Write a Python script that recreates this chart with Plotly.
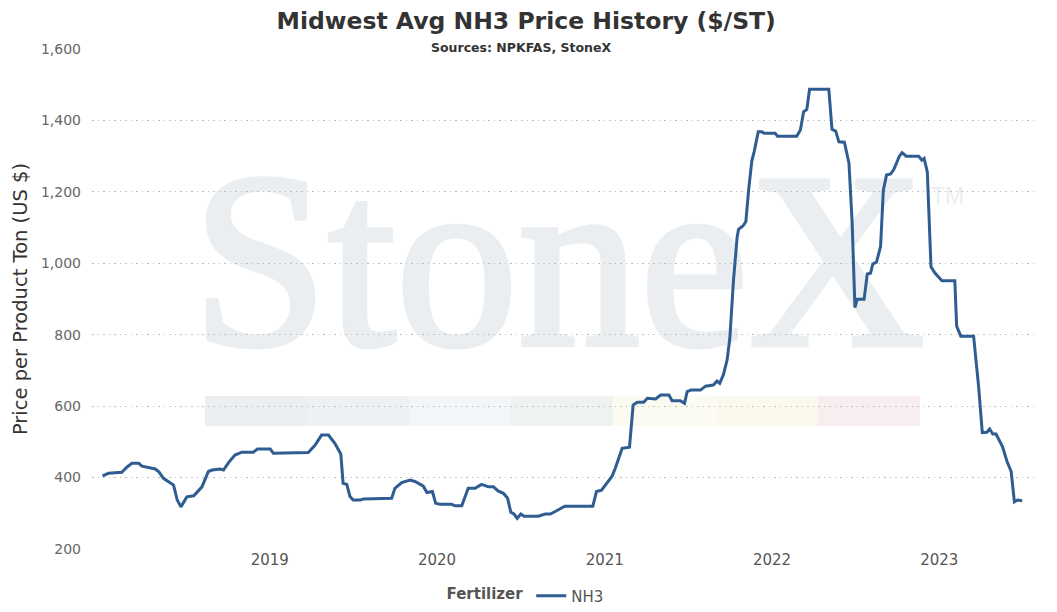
import base64
import plotly.graph_objects as go

# weekly-ish Midwest NH3 retail price, $/short ton
dates = [
    '2018-01-01', '2018-01-14', '2018-02-12', '2018-02-23', '2018-03-06', '2018-03-21',
    '2018-03-28', '2018-04-12', '2018-04-26', '2018-05-04', '2018-05-14', '2018-06-05',
    '2018-06-13', '2018-06-21', '2018-07-04', '2018-07-19', '2018-08-06', '2018-08-20',
    '2018-08-28', '2018-09-15', '2018-09-22', '2018-10-03', '2018-10-17', '2018-11-01',
    '2018-11-26', '2018-12-05', '2019-01-02', '2019-01-09', '2019-02-21', '2019-03-26',
    '2019-04-10', '2019-04-24', '2019-05-09', '2019-05-23', '2019-06-05', '2019-06-10',
    '2019-06-18', '2019-06-25', '2019-07-02', '2019-07-17', '2019-07-24', '2019-09-24',
    '2019-10-01', '2019-10-16', '2019-11-03', '2019-11-14', '2019-12-02', '2019-12-10',
    '2019-12-22', '2019-12-29', '2020-01-08', '2020-02-02', '2020-02-09', '2020-02-24',
    '2020-03-09', '2020-03-24', '2020-04-07', '2020-04-22', '2020-05-03', '2020-05-14',
    '2020-05-25', '2020-06-03', '2020-06-10', '2020-06-17', '2020-06-24', '2020-07-02',
    '2020-07-09', '2020-08-09', '2020-08-24', '2020-09-04', '2020-09-15', '2020-09-25',
    '2020-10-06', '2020-12-06', '2020-12-14', '2020-12-25', '2021-01-06', '2021-01-17',
    '2021-01-24', '2021-02-08', '2021-02-24', '2021-03-04', '2021-03-13', '2021-03-27',
    '2021-04-04', '2021-04-22', '2021-05-03', '2021-05-21', '2021-05-28', '2021-06-15',
    '2021-06-24', '2021-06-30', '2021-07-08', '2021-07-29', '2021-08-09', '2021-08-26',
    '2021-09-03', '2021-09-09', '2021-09-17', '2021-09-25', '2021-10-01', '2021-10-09',
    '2021-10-17', '2021-10-20', '2021-10-30', '2021-11-05', '2021-11-11', '2021-11-18',
    '2021-11-23', '2021-12-02', '2021-12-10', '2021-12-15', '2022-01-08', '2022-01-13',
    '2022-02-24', '2022-03-04', '2022-03-11', '2022-03-18', '2022-03-24', '2022-05-05',
    '2022-05-12', '2022-05-20', '2022-05-27', '2022-06-08', '2022-06-18', '2022-06-25',
    '2022-07-01', '2022-07-06', '2022-07-21', '2022-07-28', '2022-08-04', '2022-08-09',
    '2022-08-17', '2022-08-26', '2022-09-01', '2022-09-08', '2022-09-17', '2022-09-24',
    '2022-10-06', '2022-10-12', '2022-10-21', '2022-11-17', '2022-11-24', '2022-11-29',
    '2022-12-06', '2022-12-14', '2022-12-23', '2023-01-07', '2023-02-04', '2023-02-08',
    '2023-02-17', '2023-03-17', '2023-03-28', '2023-04-05', '2023-04-15', '2023-04-21',
    '2023-04-28', '2023-05-05', '2023-05-19', '2023-05-29', '2023-06-07', '2023-06-14',
    '2023-06-21', '2023-07-01',
]
nh3 = [
    405, 412, 415, 429, 440, 440,
    432, 428, 424, 416, 398, 379,
    337, 318, 346, 349, 374, 417,
    421, 424, 421, 442, 463, 471,
    471, 480, 480, 468, 468, 470,
    491, 519, 519, 496, 466, 384,
    381, 347, 337, 337, 340, 342,
    370, 386, 393, 389, 376, 358,
    361, 328, 325, 325, 321, 321,
    370, 370, 381, 374, 374, 362,
    356, 342, 303, 298, 286, 298,
    292, 292, 298, 298, 305, 312,
    320, 320, 361, 365, 384, 404,
    426, 482, 485, 603, 611, 611,
    622, 620, 631, 631, 615, 615,
    608, 641, 645, 645, 656, 659,
    670, 664, 688, 729, 790, 953,
    1074, 1095, 1105, 1117, 1205, 1287,
    1312, 1368, 1368, 1364, 1364, 1356,
    1356, 1373, 1424, 1431, 1487, 1487,
    1375, 1370, 1340, 1339, 1280, 1112,
    876, 899, 899, 970, 972, 998,
    1003, 1047, 1205, 1247, 1250, 1263,
    1300, 1310, 1300, 1300, 1289, 1294,
    1256, 990, 972, 951, 951, 824,
    796, 796, 654, 526, 527, 536,
    522, 522, 487, 445, 417, 332,
    337, 335,
]

year_ticks = ['2019-01-01', '2020-01-01', '2021-01-01', '2022-01-01', '2023-01-01']
year_labels = ['2019', '2020', '2021', '2022', '2023']

# watermark logo pieces
band_colors = ['#eceff2', '#eef1f4', '#f2f6f9', '#eef2f0', '#fbfbf2', '#fbf8ee', '#f8eef0']
band_edges = [205, 307, 409, 511, 613, 716, 818, 920]

FONT = 'DejaVu Sans'
PAGE = 8  # default body margin of the html page
W, H = 1057 - PAGE, 612 - PAGE
PLOT_L, PLOT_R, PLOT_T, PLOT_B = 92, 1035, 49, 549  # screen pixels
w = PLOT_R - PLOT_L
h = PLOT_B - PLOT_T

# StoneX watermark drawn as an svg image behind the grid
svg = (
    f"<svg xmlns='http://www.w3.org/2000/svg' width='{w}' height='{h}' "
    f"viewBox='0 0 {w} {h}' preserveAspectRatio='none'>"
    "<text x='100' y='296' font-family='Liberation Serif' "
    "font-size='250' textLength='733' lengthAdjust='spacingAndGlyphs' "
    "fill='#ebeef1' stroke='#ebeef1' stroke-width='5'>StoneX</text>"
    "<text x='839' y='155' font-family='Liberation Sans' font-size='23' "
    "fill='#ebeef1'>TM</text></svg>"
)
svg_src = 'data:image/svg+xml;base64,' + base64.b64encode(svg.encode()).decode()

fig = go.Figure()

fig.add_trace(go.Scatter(
    x=dates, y=nh3, mode='lines', name='NH3',
    line=dict(color='#2f5d91', width=3),
))

fig.add_layout_image(
    source=svg_src, xref='paper', yref='paper', x=0, y=1,
    sizex=1, sizey=1, sizing='stretch', xanchor='left', yanchor='top',
    layer='below',
)

for i, c in enumerate(band_colors):
    fig.add_shape(
        type='rect', xref='paper', yref='paper', layer='below',
        x0=(band_edges[i] - PLOT_L) / w, x1=(band_edges[i + 1] - PLOT_L) / w,
        y0=(PLOT_B - 426) / h, y1=(PLOT_B - 396) / h,
        fillcolor=c, line_width=0,
    )

fig.add_annotation(
    text='<b>Sources: NPKFAS, StoneX</b>', xref='paper', yref='paper',
    x=(521 - PLOT_L) / w, y=(PLOT_B - 47) / h, yanchor='middle', showarrow=False,
    font=dict(family=FONT, size=12.5, color='#333333'),
)

fig.update_layout(
    width=W, height=H,
    margin=dict(l=PLOT_L - PAGE, r=W - (PLOT_R - PAGE), t=PLOT_T - PAGE, b=H - (PLOT_B - PAGE)),
    paper_bgcolor='white', plot_bgcolor='white',
    font=dict(family=FONT, color='#555555'),
    title=dict(
        text='<b>Midwest Avg NH3 Price History ($/ST)</b>',
        x=0.494, xanchor='center', y=1 - 13 / H, yanchor='middle',
        font=dict(family=FONT, size=23.5, color='#333333'),
    ),
    xaxis=dict(
        range=['2017-12-09', '2023-07-29'], automargin=False,
        tickvals=year_ticks, ticktext=year_labels,
        showgrid=False, zeroline=False, showline=False,
        tickfont=dict(size=15, color='#555555'),
    ),
    yaxis=dict(
        range=[200, 1600], dtick=200, tickformat=',d', automargin=False,
        showgrid=True, gridcolor='#bdbdbd', griddash='1.5px,4px', gridwidth=1.2,
        zeroline=False, showline=False, ticklabelstandoff=10,
        tickfont=dict(size=14, color='#666666'),
        title=dict(text='Price per Product Ton (US $)',
                   font=dict(size=19.5, color='#333333'), standoff=8),
    ),
    showlegend=True,
    legend=dict(
        orientation='h', xref='container', yref='container',
        x=518.5 / W, xanchor='center', y=1 - 588 / H, yanchor='middle',
        title=dict(text='<b>Fertilizer</b>', font=dict(size=15, color='#555555')),
        font=dict(size=15, color='#555555'),
    ),
)

fig.write_html('out.html')
